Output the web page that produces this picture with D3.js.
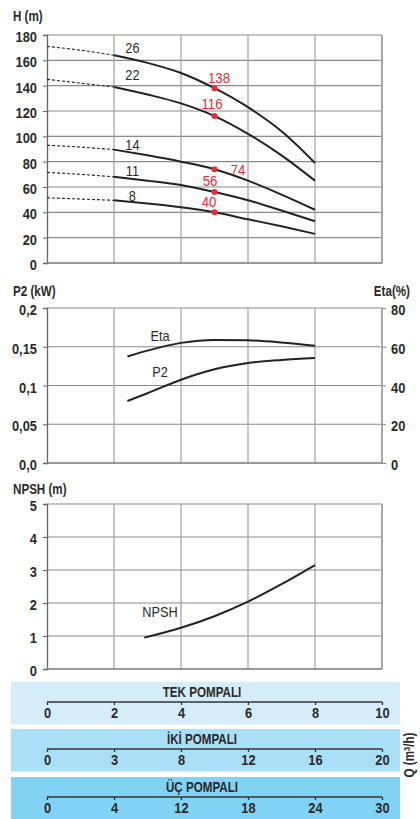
<!DOCTYPE html>
<html>
<head>
<meta charset="utf-8">
<script src="https://cdn.jsdelivr.net/npm/d3@7"></script>
<style>
  body { margin: 0; background: #fff; }
  svg { display: block; font-family: "Liberation Sans", Arial, sans-serif; }
  .tick text { font-size: 15.5px; font-weight: bold; fill: #2a2a2a; }
  .title { font-size: 14px; font-weight: bold; fill: #2a2a2a; }
  .clabel { font-size: 15px; fill: #2a2a2a; }
  .rlabel { font-size: 15px; fill: #ec2a32; }
</style>
</head>
<body>
<div id="chart"></div>
<script>
  // flow, single pump (m3/h)
  var qTicks = [0, 2, 4, 6, 8, 10];
  var qSteps = [0, 1, 2, 3, 4, 5, 6, 7, 8];

  // head curves per model
  var models = ["26", "22", "14", "11", "8"];
  var head26 = [171, 168, 164, 158, 150, 138, 123, 104, 79];
  var head22 = [145, 142, 139, 133, 126, 116, 102, 85, 65];
  var head14 = [93, 91.5, 89.5, 85, 80, 74, 65, 54, 42];
  var head11 = [71.5, 70, 68, 65, 61.5, 56, 49.5, 41.5, 33];
  var head8 = [51.5, 50.5, 49.5, 47, 44, 40, 34.5, 29, 23];
  var dutyQ = 5;
  var dutyHead = [138, 116, 74, 56, 40];

  // power / efficiency
  var qPower = [2.4, 3, 4, 5, 6, 7, 8];
  var p2 = [0.08, 0.09, 0.1075, 0.121, 0.129, 0.133, 0.1355];
  var eta = [55, 58, 62, 63.5, 63.3, 62.2, 60.5];

  // npsh
  var qNpsh = [2.9, 4, 5, 6, 7, 8];
  var npsh = [0.95, 1.25, 1.6, 2.04, 2.57, 3.15];

  // flow scales for 1, 2, 3 pumps
  var bandTitles = ["TEK POMPALI", "İKİ POMPALI", "ÜÇ POMPALI"];
  var bandLabels = [
    ["0", "2", "4", "6", "8", "10"],
    ["0", "3", "8", "12", "16", "20"],
    ["0", "4", "12", "18", "24", "30"]
  ];
  var bandColors = ["#d5edf9", "#aadff7", "#80d3f4"];

  var width = 420, height = 819;
  var narrow = 0.83; // fake a condensed face
  var svg = d3.select("#chart").append("svg")
      .attr("width", width)
      .attr("height", height);

  var x = d3.scaleLinear().domain([0, 10]).range([47, 382]);

  var line = d3.line().curve(d3.curveMonotoneX);

  function grid(y, yTicks, fmt) {
    var g = svg.append("g");
    // horizontal grid
    g.selectAll("line.h")
      .data(yTicks.slice(1))
      .join("line")
        .attr("x1", x(0)).attr("x2", x(10))
        .attr("y1", d => y(d)).attr("y2", d => y(d))
        .attr("stroke", "#8a8a8a")
        .attr("stroke-width", 1.2);
    // vertical grid
    g.selectAll("line.v")
      .data(qTicks.slice(1))
      .join("line")
        .attr("x1", d => x(d)).attr("x2", d => x(d))
        .attr("y1", y.range()[0]).attr("y2", y.range()[1])
        .attr("stroke", "#a8a8a8")
        .attr("stroke-width", d => d == 10 ? 2 : 1.3);

    var ax = d3.axisLeft(y)
        .tickValues(yTicks)
        .tickSize(4)
        .tickPadding(6)
        .tickFormat(fmt);
    svg.append("g")
        .attr("transform", "translate(" + x(0) + ",0)")
        .call(ax)
        .call(g => g.select(".domain").attr("stroke", "#666").attr("stroke-width", 1.3))
        .call(g => g.selectAll(".tick line").attr("stroke", "#666"))
        .call(g => g.selectAll(".tick text").attr("dy", "0.42em"));
    // bottom line
    svg.append("line")
        .attr("x1", x(0)).attr("x2", x(10))
        .attr("y1", y.range()[0]).attr("y2", y.range()[0])
        .attr("stroke", "#777")
        .attr("stroke-width", 1.5);
  }

  // ---------- head chart ----------
  var yH = d3.scaleLinear().domain([0, 180]).range([263, 35]);
  grid(yH, d3.range(0, 181, 20), d => d);

  svg.append("text").attr("class", "title").attr("x", 13).attr("y", 21).text("H (m)");

  var heads = [head26, head22, head14, head11, head8];
  var labelY = [53, 80, 150, 176, 201];
  heads.forEach(function(h, i) {
    var pts = qSteps.map((q, j) => [x(q), yH(h[j])]);
    svg.append("path")
        .attr("d", line(pts.slice(0, 3)))
        .attr("fill", "none")
        .attr("stroke", "#222")
        .attr("stroke-width", 1.1)
        .attr("stroke-dasharray", "3,2");
    svg.append("path")
        .attr("d", line(pts.slice(2)))
        .attr("fill", "none")
        .attr("stroke", "#222")
        .attr("stroke-width", 2);
    svg.append("text")
        .attr("class", "clabel")
        .attr("x", x(2.55))
        .attr("y", labelY[i])
        .attr("text-anchor", "middle")
        .text(models[i]);
  });

  svg.append("g")
    .selectAll("circle")
    .data(dutyHead)
    .join("circle")
      .attr("cx", x(dutyQ))
      .attr("cy", d => yH(d))
      .attr("r", 3)
      .attr("fill", "#ec2a32");

  var redPos = [[219, 83], [212, 109], [238, 175], [210, 186], [209, 207]];
  svg.append("g")
    .selectAll("text")
    .data(dutyHead)
    .join("text")
      .attr("class", "rlabel")
      .attr("x", (d, i) => redPos[i][0])
      .attr("y", (d, i) => redPos[i][1])
      .attr("text-anchor", "middle")
      .text(d => d);

  // ---------- power / eta chart ----------
  var yP = d3.scaleLinear().domain([0, 0.2]).range([463, 308]);
  var yE = d3.scaleLinear().domain([0, 80]).range([463, 308]);
  grid(yP, [0, 0.05, 0.1, 0.15, 0.2], d => d == 0 ? "0,0" : String(d).replace(".", ","));

  svg.append("g")
      .attr("transform", "translate(" + x(10) + ",0)")
      .call(d3.axisRight(yE).tickValues([0, 20, 40, 60, 80]).tickSize(4).tickPadding(5))
      .call(g => g.select(".domain").remove())
      .call(g => g.selectAll(".tick line").attr("stroke", "#888"))
      .call(g => g.selectAll(".tick text").attr("dy", "0.42em"));

  svg.append("text").attr("class", "title").attr("x", 13).attr("y", 296).text("P2 (kW)");
  svg.append("text").attr("class", "title").attr("x", 410).attr("y", 296)
      .attr("text-anchor", "end").text("Eta(%)");

  svg.append("path")
      .attr("d", line(qPower.map((q, j) => [x(q), yE(eta[j])])))
      .attr("fill", "none").attr("stroke", "#222").attr("stroke-width", 2);
  svg.append("path")
      .attr("d", line(qPower.map((q, j) => [x(q), yP(p2[j])])))
      .attr("fill", "none").attr("stroke", "#222").attr("stroke-width", 2);
  svg.append("text").attr("class", "clabel").attr("x", 160).attr("y", 341)
      .attr("text-anchor", "middle").text("Eta");
  svg.append("text").attr("class", "clabel").attr("x", 160).attr("y", 377)
      .attr("text-anchor", "middle").text("P2");

  // ---------- npsh chart ----------
  var yN = d3.scaleLinear().domain([0, 5]).range([669, 504]);
  grid(yN, d3.range(0, 6), d => d);
  svg.append("text").attr("class", "title").attr("x", 13).attr("y", 494).text("NPSH (m)");
  svg.append("path")
      .attr("d", line(qNpsh.map((q, j) => [x(q), yN(npsh[j])])))
      .attr("fill", "none").attr("stroke", "#222").attr("stroke-width", 2);
  svg.append("text").attr("class", "clabel").attr("x", 160).attr("y", 617)
      .attr("text-anchor", "middle").text("NPSH");

  // ---------- flow bands ----------
  var bandTop = [682, 729, 777];
  bandTitles.forEach(function(t, i) {
    var y0 = bandTop[i];
    svg.append("rect")
        .attr("x", 11).attr("y", y0)
        .attr("width", 389).attr("height", i == 2 ? 42 : 42.5)
        .attr("fill", bandColors[i]);
    svg.append("text")
        .attr("class", "title")
        .attr("x", 202).attr("y", y0 + 15)
        .attr("text-anchor", "middle")
        .text(t);
    svg.append("g")
        .attr("transform", "translate(0," + (y0 + 20) + ")")
        .call(d3.axisBottom(x)
          .tickValues(qTicks)
          .tickSize(3)
          .tickPadding(2)
          .tickFormat((d, j) => bandLabels[i][j]))
        .call(g => g.select(".domain").attr("stroke", "#333").attr("stroke-width", 1.3)
                     .attr("d", "M" + x(0) + ",0H" + x(10)))
        .call(g => g.selectAll(".tick line").attr("stroke", "#333").attr("stroke-width", 1.3));
  });

  // squeeze every text horizontally round its own anchor
  svg.selectAll("text").each(function() {
    var t = d3.select(this);
    var ax = +t.attr("x") || 0;
    var k = t.classed("clabel") ? 0.85 : t.classed("rlabel") ? 0.88 : narrow;
    t.attr("transform", "translate(" + ax + ",0) scale(" + k + ",1) translate(" + (-ax) + ",0)");
  });

  svg.append("text")
      .attr("class", "title")
      .attr("transform", "translate(414,755) rotate(-90) scale(" + narrow + ",1)")
      .attr("text-anchor", "middle")
      .html("Q (m<tspan baseline-shift='super' font-size='9px'>3</tspan>/h)");
</script>
</body>
</html>
